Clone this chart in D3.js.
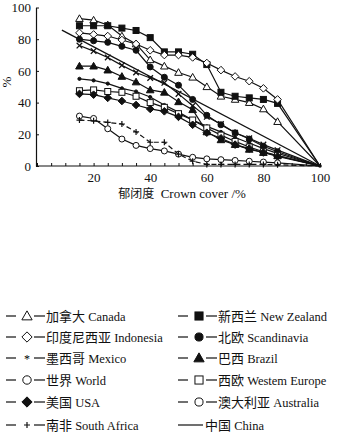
<!DOCTYPE html>
<html>
<head>
<meta charset="utf-8">
<script src="https://cdn.jsdelivr.net/npm/d3@7"></script>
<style>
  body { margin: 0; background: #fff; }
</style>
</head>
<body>
<script>
// crown cover classes (x) and share values (y, %)
var coverX = [15, 20, 25, 30, 35, 40, 45, 50, 55, 60, 65, 70, 75, 80, 85, 100];

var canada      = [93, 92, 89, 82, 77, 67, 63, 59, 56, 50, 44, 42, 40, 36, 28, 0];
var newZealand  = [88.5, 88.5, 88.5, 87, 85.5, 81, 72, 72, 70.5, 64, 46.5, 44, 43, 42, 39.5, 0];
var indonesia   = [84, 83, 82, 79.5, 77, 73, 70, 70, 68.5, 65, 60.5, 56.5, 53.5, 49, 42, 0];
var scandinavia = [80, 79, 78, 75.5, 73, 62.5, 56, 51, 42, 32, 26, 21, 17, 12.5, 9, 0];
var mexico      = [76, 72.5, 68.5, 63.5, 59, 55.5, 52.5, 45.5, 38, 31, 26.5, 21, 17.5, 13.5, 10, 0];
var brazil      = [63, 63, 60.5, 56.5, 53, 48, 46.5, 40.5, 35.5, 21.5, 16.5, 13.5, 10.5, 8.5, 6.5, 0];
var world       = [55, 54, 52, 49, 47, 43.5, 38.5, 34, 29, 25, 21.5, 18, 14.5, 11, 8, 0];
var westEurope  = [47.5, 48, 47, 46.5, 44, 40, 37, 33, 29, 24, 19.5, 15.5, 12, 9, 6.5, 0];
var usa         = [45.5, 45, 43, 41, 38.5, 36, 34.5, 31, 26, 21, 17.5, 13.5, 11, 8.5, 6, 0];
var australia   = [31.5, 30, 23.5, 17, 13, 11, 9.5, 7.5, 5.5, 4.5, 4, 3.5, 3, 2.5, 2, 0];
var southAfrica = [29, 28.5, 27.5, 26.5, 21.5, 15, 15, 7.5, 3, 1, 1, 1, 1, 1, 0.8, 0];

var chinaX = [8.8, 100];
var chinaY = [85.7, 0];

var xTicks = [20, 40, 60, 80, 100];
var yTicks = [0, 20, 40, 60, 80, 100];

var serif = "'Liberation Serif', 'Times New Roman', Times, serif";
var cjk = "'Noto Sans CJK SC', sans-serif";

// series list: values + marker type
var series = [
  {v: canada, m: "triOpen"},
  {v: newZealand, m: "sqFill"},
  {v: indonesia, m: "diaOpen"},
  {v: scandinavia, m: "cirFill"},
  {v: mexico, m: "times"},
  {v: brazil, m: "triFill"},
  {v: world, m: "dot"},
  {v: westEurope, m: "sqOpen"},
  {v: usa, m: "diaFill"},
  {v: australia, m: "cirOpen"},
  {v: southAfrica, m: "plus", dash: "5,3"}
];

var svg = d3.select("body").append("svg")
    .attr("width", 348)
    .attr("height", 434);

var x = d3.scaleLinear().domain([0, 100]).range([37, 320]);
var y = d3.scaleLinear().domain([0, 100]).range([166, 7.5]);

// draw a marker at (cx, cy)
function marker(g, type, cx, cy, legend) {
  var s = legend ? 1.35 : 1;
  var sw = 1;
  if (type == "triOpen" || type == "triFill") {
    var r = 3.8 * s;
    g.append("path")
      .attr("d", "M" + cx + "," + (cy - r) + "L" + (cx + r) + "," + (cy + r * 0.75) + "L" + (cx - r) + "," + (cy + r * 0.75) + "Z")
      .attr("fill", type == "triFill" ? "#111" : "#fff")
      .attr("stroke", "#111").attr("stroke-width", sw);
  } else if (type == "sqFill" || type == "sqOpen") {
    var h = 3 * s;
    g.append("rect")
      .attr("x", cx - h).attr("y", cy - h).attr("width", 2 * h).attr("height", 2 * h)
      .attr("fill", type == "sqFill" ? "#111" : "#fff")
      .attr("stroke", "#111").attr("stroke-width", sw);
  } else if (type == "diaOpen" || type == "diaFill") {
    var d = 3.8 * s;
    g.append("path")
      .attr("d", "M" + cx + "," + (cy - d) + "L" + (cx + d) + "," + cy + "L" + cx + "," + (cy + d) + "L" + (cx - d) + "," + cy + "Z")
      .attr("fill", type == "diaFill" ? "#111" : "#fff")
      .attr("stroke", "#111").attr("stroke-width", sw);
  } else if (type == "cirFill" || type == "cirOpen") {
    g.append("circle")
      .attr("cx", cx).attr("cy", cy).attr("r", 3 * s)
      .attr("fill", type == "cirFill" ? "#111" : "#fff")
      .attr("stroke", "#111").attr("stroke-width", sw);
  } else if (type == "dot") {
    g.append("circle")
      .attr("cx", cx).attr("cy", cy).attr("r", legend ? 4.2 : 1.6)
      .attr("fill", legend ? "#fff" : "#111")
      .attr("stroke", "#111").attr("stroke-width", sw);
  } else if (type == "times") {
    var t = 2.8;
    g.append("path")
      .attr("d", "M" + (cx - t) + "," + (cy - t) + "L" + (cx + t) + "," + (cy + t) + "M" + (cx + t) + "," + (cy - t) + "L" + (cx - t) + "," + (cy + t))
      .attr("stroke", "#111").attr("stroke-width", 1.3);
  } else if (type == "plus") {
    var p = 3;
    g.append("path")
      .attr("d", "M" + (cx - p) + "," + cy + "L" + (cx + p) + "," + cy + "M" + cx + "," + (cy - p) + "L" + cx + "," + (cy + p))
      .attr("stroke", "#111").attr("stroke-width", 1.2);
  }
}

var line = d3.line()
    .x(function(d) { return x(d[0]); })
    .y(function(d) { return y(d[1]); });

var plot = svg.append("g");

// China reference line
plot.append("path")
  .datum(d3.zip(chinaX, chinaY))
  .attr("d", line)
  .attr("fill", "none")
  .attr("stroke", "#111")
  .attr("stroke-width", 1.3);

series.forEach(function(s) {
  var pts = d3.zip(coverX, s.v);
  plot.append("path")
    .datum(pts)
    .attr("d", line)
    .attr("fill", "none")
    .attr("stroke", "#111")
    .attr("stroke-width", 1.2)
    .attr("stroke-dasharray", s.dash || null);
  var mg = plot.append("g");
  pts.slice(0, pts.length - 1).forEach(function(p) {
    marker(mg, s.m, x(p[0]), y(p[1]), false);
  });
});

// end point at 100
plot.append("circle").attr("cx", x(100)).attr("cy", y(0)).attr("r", 1.8).attr("fill", "#111");

// axes
var bottomAxis = d3.axisBottom(x)
    .tickValues(d3.range(0, 101, 5))
    .tickSizeInner(-3).tickSizeOuter(0)
    .tickFormat(function(d) { return xTicks.indexOf(d) >= 0 ? d : ""; });

var gx = svg.append("g")
  .attr("transform", "translate(0," + y(0) + ")")
  .call(bottomAxis)
  .attr("font-family", serif)
  .attr("font-size", 13);
gx.select(".domain").attr("stroke", "#111").attr("stroke-width", 1.2).attr("d", "M36,0H320");
gx.selectAll(".tick line").attr("stroke", "#111");
gx.selectAll(".tick text").attr("y", 7).attr("dy", "0.71em").attr("fill", "#111");

var leftAxis = d3.axisLeft(y)
    .tickValues(yTicks)
    .tickSizeInner(-3).tickSizeOuter(0);

var gy = svg.append("g")
  .attr("transform", "translate(36,0)")
  .call(leftAxis)
  .attr("font-family", serif)
  .attr("font-size", 13);
gy.select(".domain").attr("stroke", "#111").attr("stroke-width", 1.2);
gy.selectAll(".tick line").attr("stroke", "#111");
gy.selectAll(".tick text").attr("x", -5).attr("fill", "#111");

// axis titles
var xt = svg.append("text")
  .attr("x", 182).attr("y", 198)
  .attr("text-anchor", "middle")
  .attr("fill", "#111");
xt.append("tspan").attr("font-family", cjk).attr("font-size", 12).text("郁闭度");
xt.append("tspan").attr("font-family", serif).attr("font-size", 13).text("\u00a0 Crown cover /%");

svg.append("text")
  .attr("transform", "translate(11,82) rotate(-90)")
  .attr("text-anchor", "middle")
  .attr("font-family", serif)
  .attr("font-size", 13)
  .attr("fill", "#111")
  .text("%");

// legend: left column then right column
var legendOrder = [
  ["加拿大", "Canada", "triOpen"], ["新西兰", "New Zealand", "sqFill"],
  ["印度尼西亚", "Indonesia", "diaOpen"], ["北欧", "Scandinavia", "cirFill"],
  ["墨西哥", "Mexico", "star"], ["巴西", "Brazil", "triFill"],
  ["世界", "World", "cirOpenL"], ["西欧", "Westem  Europe", "sqOpen"],
  ["美国", "USA", "diaFill"], ["澳大利亚", "Australia", "cirOpen"],
  ["南非", "South Africa", "plus"], ["中国", "China", "none"]
];

var rowY = [316, 337, 358, 380, 402, 425];

legendOrder.forEach(function(it, i) {
  var col = i % 2, row = Math.floor(i / 2);
  var x0 = col == 0 ? 6 : 178;
  var cy = rowY[row];
  var g = svg.append("g");
  var mx = x0 + 21;
  if (it[2] == "none") {
    g.append("line").attr("x1", x0).attr("x2", x0 + 25).attr("y1", cy).attr("y2", cy)
      .attr("stroke", "#111").attr("stroke-width", 1.2);
  } else {
    g.append("line").attr("x1", x0).attr("x2", x0 + 10).attr("y1", cy).attr("y2", cy)
      .attr("stroke", "#111").attr("stroke-width", 1.2);
    g.append("line").attr("x1", x0 + 28).attr("x2", x0 + 39).attr("y1", cy).attr("y2", cy)
      .attr("stroke", "#111").attr("stroke-width", 1.2);
    if (it[2] == "star") {
      g.append("text").attr("x", mx).attr("y", cy + 5).attr("text-anchor", "middle")
        .attr("font-family", serif).attr("font-size", 12).text("*");
    } else if (it[2] == "cirOpenL") {
      marker(g, "dot", mx, cy, true);
    } else {
      marker(g, it[2], mx, cy, true);
    }
  }
  var t = g.append("text")
    .attr("x", it[2] == "none" ? x0 + 27 : x0 + 40).attr("y", cy + 4.5)
    .attr("fill", "#111");
  t.append("tspan").attr("font-family", cjk).attr("font-size", 13).text(it[0]);
  t.append("tspan").attr("font-family", serif).attr("font-size", 12.5).text(" " + it[1]);
});
</script>
</body>
</html>
